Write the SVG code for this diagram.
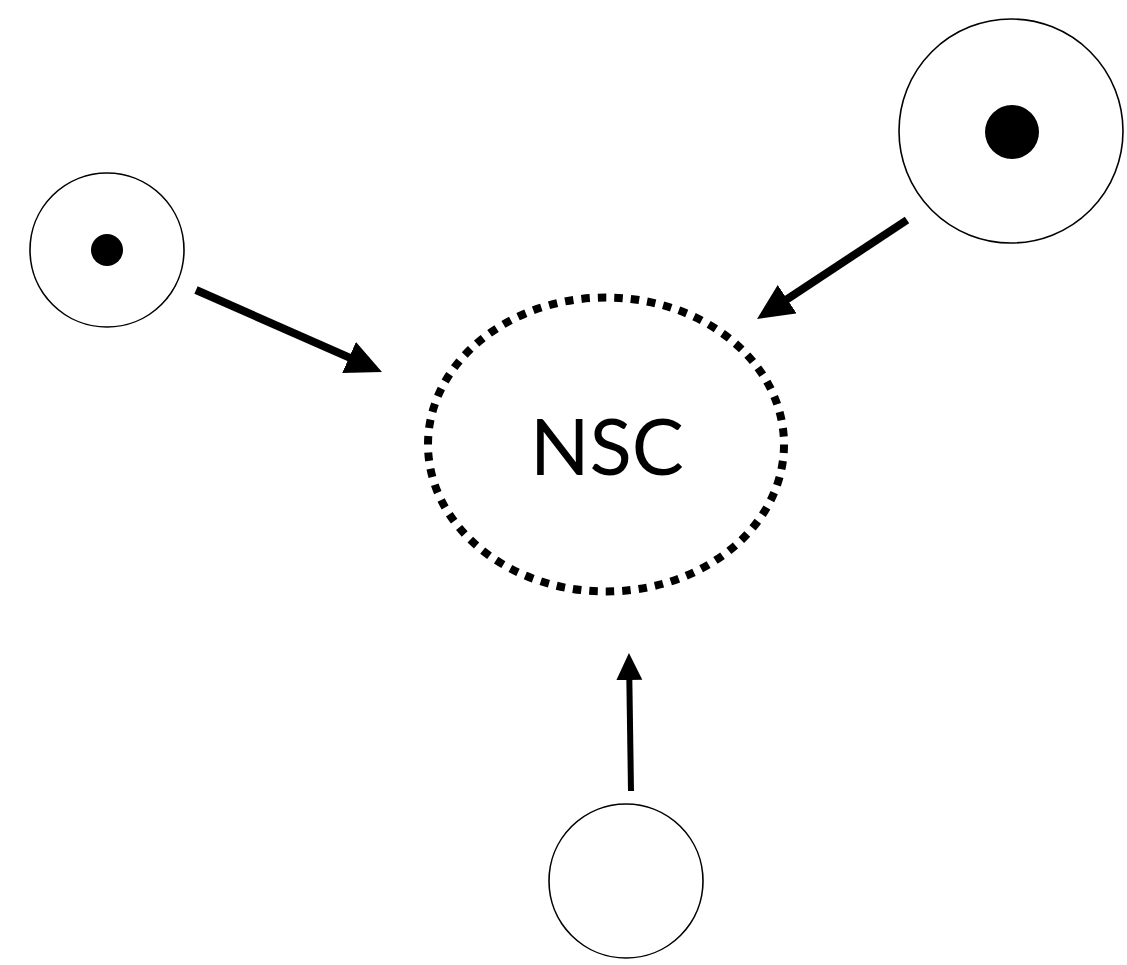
<svg xmlns="http://www.w3.org/2000/svg" width="1127" height="965" viewBox="0 0 1127 965">
  <style>
    .ring { fill: #fff; stroke: #000; stroke-width: 1.6; }
    .dot { fill: #000; }
    .link { stroke: #000; fill: none; }
    .label { font-family: "Lato", "Liberation Sans", sans-serif; font-size: 78px; fill: #000; }
  </style>
  <defs>
    <!-- heads are anchored near their base so the shaft stops under the head -->
    <marker id="head" markerUnits="userSpaceOnUse" markerWidth="40" markerHeight="40" refX="3" refY="17" orient="auto">
      <polygon points="0,0 36,17 0,34" fill="#000"/>
    </marker>
    <marker id="headSmall" markerUnits="userSpaceOnUse" markerWidth="30" markerHeight="30" refX="3" refY="13" orient="auto">
      <polygon points="0,0 27,13 0,26" fill="#000"/>
    </marker>
  </defs>
  <rect width="1127" height="965" fill="#fff"/>

  <g id="nsc">
    <ellipse cx="606" cy="444.5" rx="178" ry="147" fill="none" stroke="#000" stroke-width="8" stroke-dasharray="8.5 8"/>
    <text class="label" x="607" y="475" text-anchor="middle">NSC</text>
  </g>

  <g id="source-left">
    <circle class="ring" cx="107" cy="250" r="77"/>
    <circle class="dot" cx="107" cy="250" r="16"/>
  </g>

  <g id="source-right">
    <circle class="ring" cx="1011" cy="131" r="112"/>
    <circle class="dot" cx="1012" cy="132" r="27"/>
  </g>

  <g id="source-bottom">
    <circle class="ring" cx="626" cy="881" r="77"/>
  </g>

  <g id="connectors">
    <line class="link" x1="196" y1="290" x2="351.8" y2="358.7" stroke-width="8" marker-end="url(#head)"/>
    <line class="link" x1="907" y1="220" x2="784.6" y2="300.8" stroke-width="8" marker-end="url(#head)"/>
    <line class="link" x1="631" y1="791" x2="629.3" y2="677" stroke-width="6" marker-end="url(#headSmall)"/>
  </g>
</svg>
